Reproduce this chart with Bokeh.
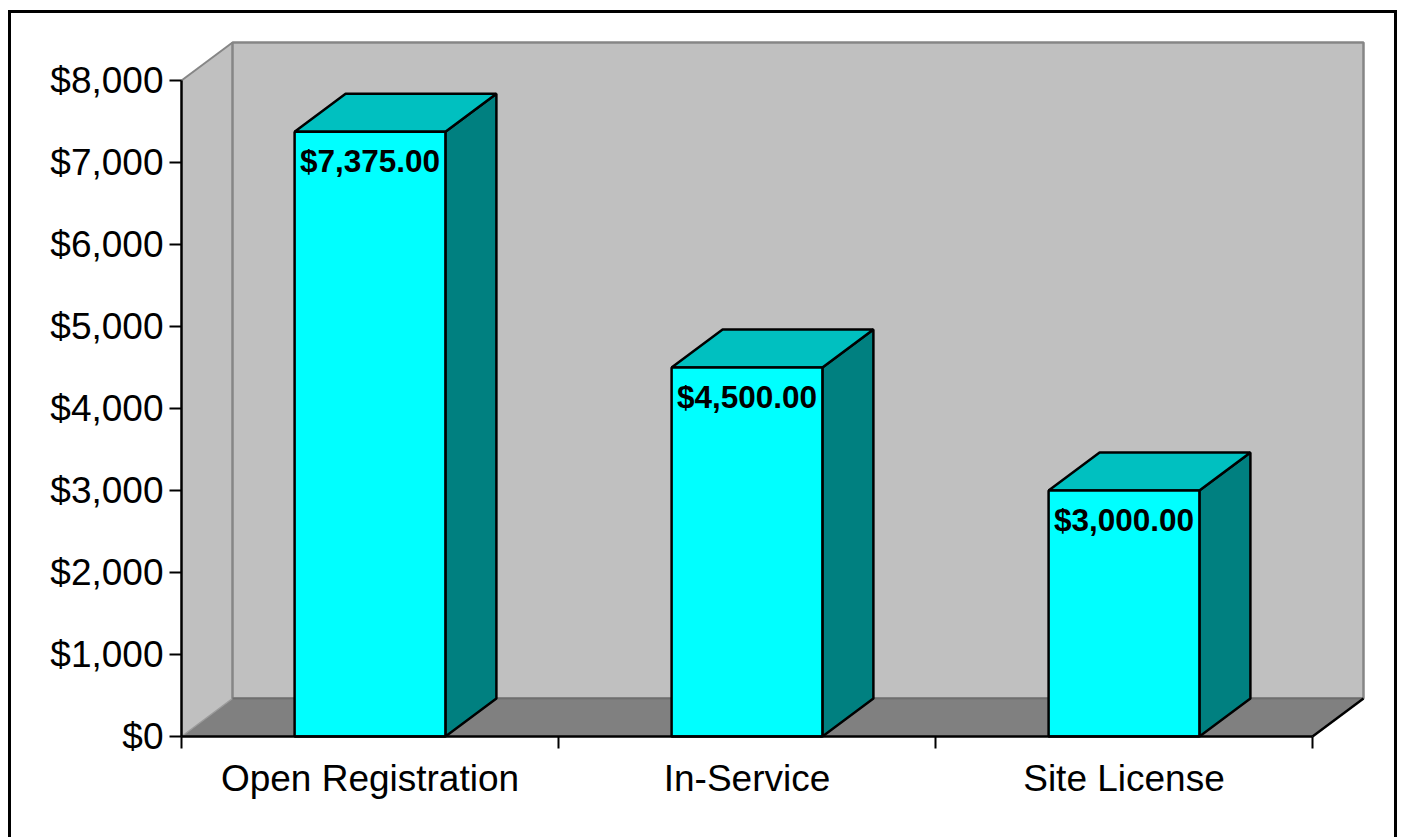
from bokeh.plotting import figure
from bokeh.models import FixedTicker, NumeralTickFormatter, Range1d
from bokeh.core.properties import value
from bokeh.embed import file_html
from bokeh.resources import INLINE

# ---- data ----
categories = ["Open Registration", "In-Service", "Site License"]
amounts = [7375.0, 4500.0, 3000.0]
y_ticks = [0, 1000, 2000, 3000, 4000, 5000, 6000, 7000, 8000]
y_max = 8000

# ---- style constants ----
PX_X = 377.0          # pixels per category
PX_Y = 0.082          # pixels per dollar
DX = 51 / PX_X        # 3-D depth in x (data units)
DY = 38 / PX_Y        # 3-D depth in y (data units)
BAR_HALF = 0.2
FONT = "Liberation Sans"

n = len(categories)
centers = [i + 1 for i in range(n)]
x0, x1 = 0.5, n + 0.5

p = figure(width=1402, height=837, output_backend="svg", toolbar_location=None,
           title=None,
           x_range=Range1d(x0 - 2 / PX_X, x1 + DX + 2 / PX_X),
           y_range=Range1d(-2 / PX_Y, y_max + DY + 2 / PX_Y))
p.min_border_left = 179
p.min_border_right = 1402 - 1365
p.min_border_top = 40
p.min_border_bottom = 837 - 738
p.outline_line_color = None
p.xgrid.visible = False
p.ygrid.visible = False
p.background_fill_color = "white"
p.border_fill_color = None
p.styles = {
    "background": ("linear-gradient(#000,#000) 8px 10px / 3px 840px no-repeat, "
                   "linear-gradient(#000,#000) 8px 10px / 1389px 3px no-repeat, "
                   "linear-gradient(#000,#000) 1394px 10px / 3px 840px no-repeat, #fff"),
}

# floor
p.patch([x0, x0 + DX, x1 + DX, x1], [0, DY, DY, 0], fill_color="#808080", line_color=None)
# left wall
p.patch([x0, x0, x0 + DX, x0 + DX], [0, y_max, y_max + DY, DY], fill_color="#C0C0C0", line_color=None)
# back wall
p.patch([x0 + DX, x0 + DX, x1 + DX, x1 + DX], [DY, y_max + DY, y_max + DY, DY],
        fill_color="#C0C0C0", line_color="#868686", line_width=2.5)
# wall edges
p.line([x0, x0 + DX], [y_max, y_max + DY], line_color="#868686", line_width=2)
p.line([x0, x0 + DX], [0, DY], line_color="#9a9a9a", line_width=1.5)
p.line([x0 + DX, x1 + DX], [DY, DY], line_color="#6e6e6e", line_width=2)
p.line([x1, x1 + DX], [0, DY], line_color="black", line_width=2.5)

# bars
side_xs, side_ys, top_xs, top_ys = [], [], [], []
for c, v in zip(centers, amounts):
    l, r = c - BAR_HALF, c + BAR_HALF
    side_xs.append([r, r + DX, r + DX, r])
    side_ys.append([0, DY, v + DY, v])
    top_xs.append([l, l + DX, r + DX, r])
    top_ys.append([v, v + DY, v + DY, v])
p.patches(side_xs, side_ys, fill_color="#008080", line_color="black", line_width=2.5)
p.patches(top_xs, top_ys, fill_color="#00C0C0", line_color="black", line_width=2.5)
p.quad(left=[c - BAR_HALF for c in centers], right=[c + BAR_HALF for c in centers],
       bottom=0, top=amounts, fill_color="#00FFFF", line_color="black", line_width=2.5)

# axis lines
p.line([x0, x0], [0, y_max], line_color="black", line_width=2.5)
p.line([x0, x1], [0, 0], line_color="black", line_width=2.5)

# value labels
p.text(x=centers, y=[v - 29 / PX_Y for v in amounts], text=[f"${v:,.2f}" for v in amounts],
       text_align="center", text_baseline="middle", text_font=value(FONT),
       text_font_style="bold", text_font_size="31.5px", text_color="black")

# y axis
ya = p.yaxis[0]
ya.ticker = FixedTicker(ticks=y_ticks)
ya.formatter = NumeralTickFormatter(format="$0,0")
ya.axis_line_color = None
ya.major_tick_out = 10
ya.major_tick_in = 2
ya.major_tick_line_width = 2
ya.major_tick_line_color = "black"
ya.minor_tick_line_color = None
ya.major_label_standoff = 6
ya.major_label_text_font = FONT
ya.major_label_text_font_size = "37px"
ya.major_label_text_color = "black"

# x axis
xa = p.xaxis[0]
xa.ticker = FixedTicker(ticks=centers, minor_ticks=[x0 + i for i in range(n + 1)])
xa.major_label_overrides = {c: cat for c, cat in zip(centers, categories)}
xa.axis_line_color = None
xa.major_tick_out = 0
xa.major_tick_in = 0
xa.major_tick_line_color = None
xa.minor_tick_out = 10
xa.minor_tick_in = 2
xa.minor_tick_line_width = 2
xa.minor_tick_line_color = "black"
xa.major_label_standoff = 9
xa.major_label_text_font = FONT
xa.major_label_text_font_size = "37px"
xa.major_label_text_color = "black"

open("out.html", "w").write(file_html(p, INLINE))
